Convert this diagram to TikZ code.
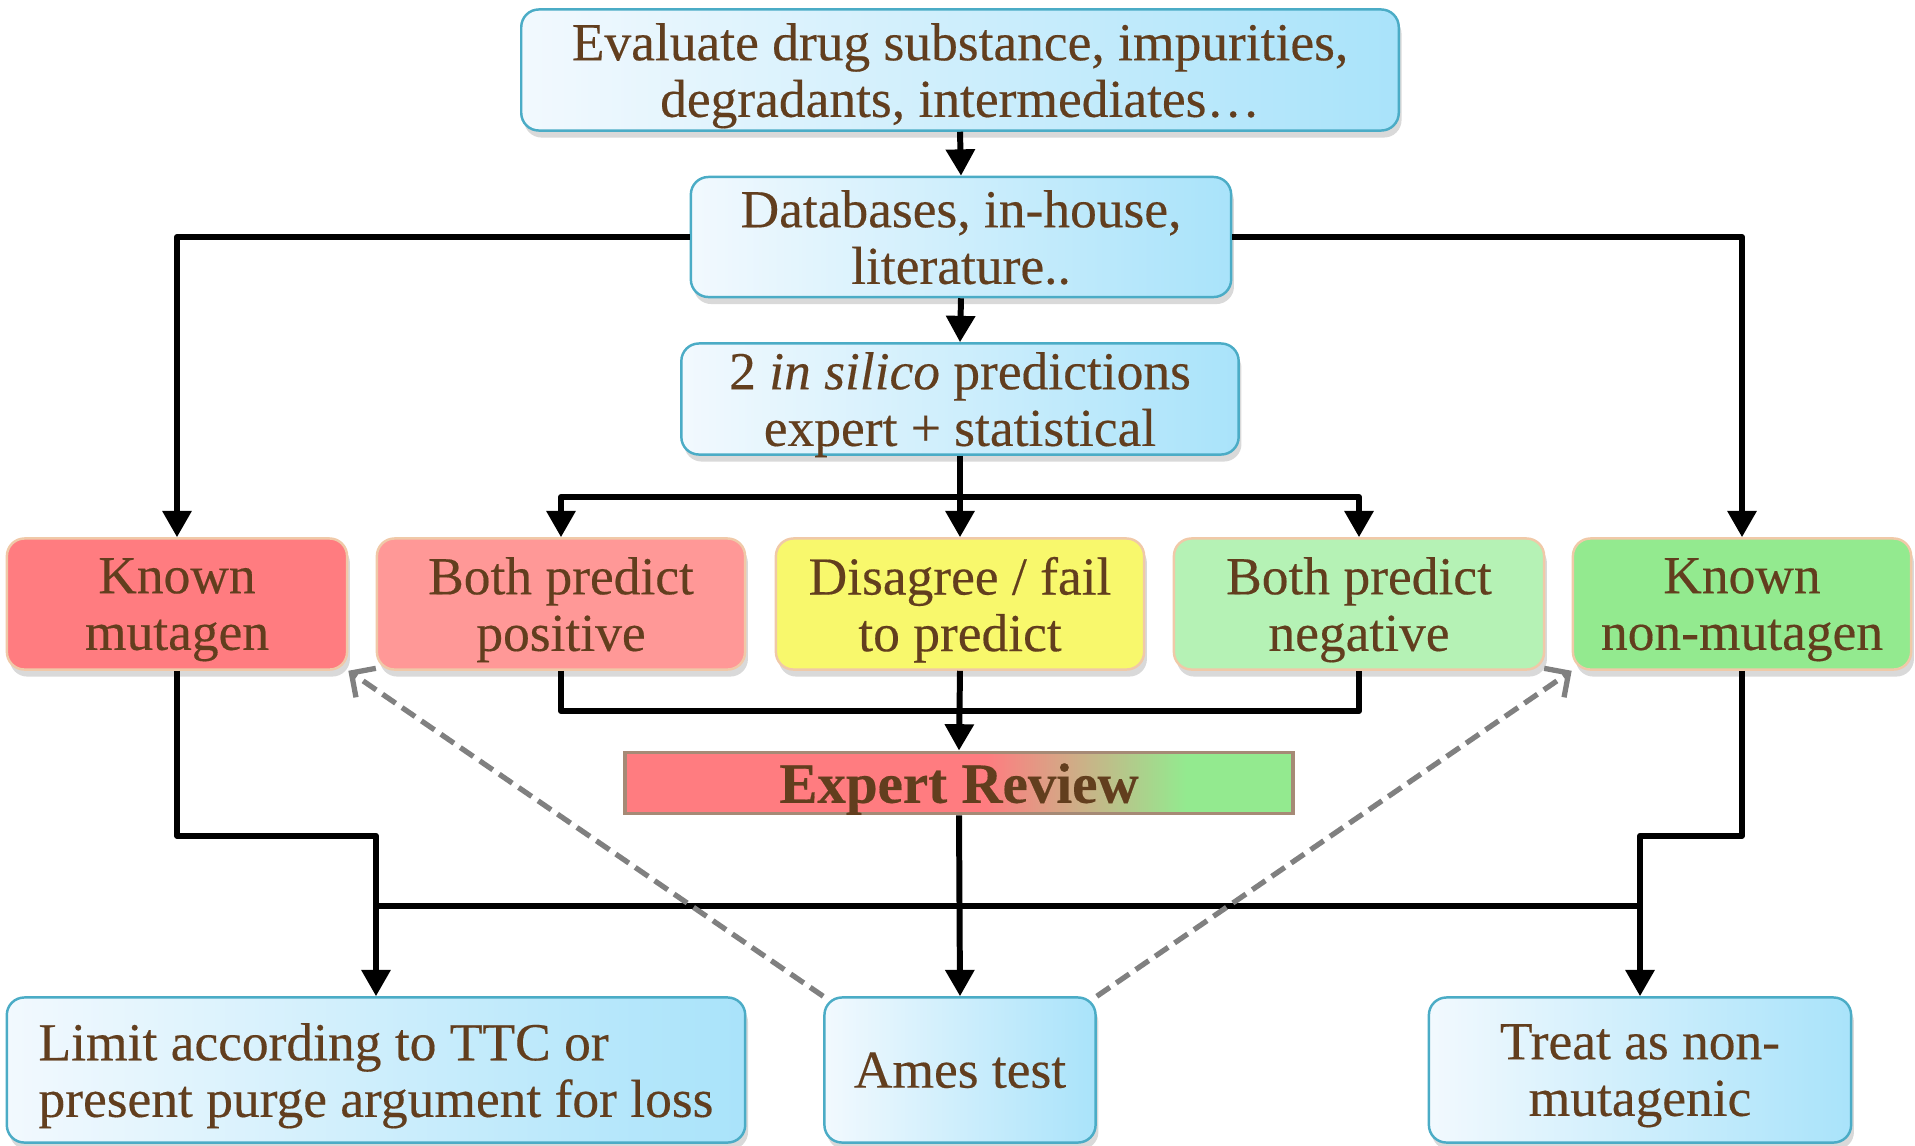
\documentclass[tikz,border=0pt]{standalone}
\usepackage{fontspec}
\setmainfont{Liberation Serif}[FakeBold=0.3]
\usepackage{xcolor}
\definecolor{txt}{HTML}{623E1E}
\definecolor{bluerule}{HTML}{4BACC6}
\definecolor{bluel}{HTML}{F2F9FE}
\definecolor{bluer}{HTML}{A9E3FA}
\definecolor{mutred}{HTML}{FF7C80}
\definecolor{pospink}{HTML}{FF9897}
\definecolor{disyel}{HTML}{F8F86C}
\definecolor{neggreen}{HTML}{B5F2B5}
\definecolor{nongreen}{HTML}{93EA8F}
\definecolor{tanrule}{HTML}{F0C9A8}
\definecolor{revrule}{HTML}{A68A76}
\definecolor{dashgray}{HTML}{808080}
\usepackage{tikz}
\usetikzlibrary{positioning,arrows.meta,shadows,calc}
\pgfdeclarehorizontalshading{revshade}{100bp}{color(0bp)=(mutred); color(52bp)=(mutred); color(67bp)=(nongreen); color(100bp)=(nongreen)}
\tikzset{
  >={Triangle[length=7.5pt,width=8pt]},
  box/.style={rounded corners=5pt,line width=0.7pt,align=center,text=txt,inner sep=2pt,
    font=\fontsize{15.2}{16.1}\selectfont,text depth=0pt,
    drop shadow={shadow xshift=0.8pt,shadow yshift=-2pt,opacity=0.3}},
  blk/.style={box,draw=bluerule,left color=bluel,right color=bluer},
  hit/.style={box,draw=tanrule,minimum height=1.31cm},
  revbox/.style={draw=revrule,line width=1.1pt,shade,shading=revshade,text=txt,text depth=0pt,
    font=\fontsize{16.2}{17}\selectfont\bfseries,minimum width=6.68cm,minimum height=0.61cm,inner sep=0pt},
  flow/.style={->,draw=black,line width=1.7pt,line join=round},
  link/.style={draw=black,line width=1.7pt,line join=round},
  back/.style={-{Straight Barb[length=5pt,width=10pt]},draw=dashgray,line width=1.5pt,dash pattern=on 4.5pt off 2.2pt},
}
\begin{document}
\begin{tikzpicture}[x=0.01cm,y=-0.01cm]
  \useasboundingbox (0,0) rectangle (1915,1145);
  % top chain
  \node[blk,minimum width=8.77cm,minimum height=1.21cm] (eval) at (960,70) {Evaluate drug substance, impurities,\\degradants, intermediates…};
  \node[blk,minimum width=5.40cm,minimum height=1.20cm] (dbase) at (961,237) {Databases, in-house,\\literature..};
  \node[blk,minimum width=5.57cm,minimum height=1.11cm] (silico) at (960,399) {2 \textit{in silico} predictions\\expert + statistical};
  % outcome row
  \node[hit,fill=mutred,minimum width=3.40cm] (kmut) at (177,604) {Known\\mutagen};
  \node[hit,fill=pospink,minimum width=3.68cm] (bpos) at (561,604) {Both predict\\positive};
  \node[hit,fill=disyel,minimum width=3.68cm] (dis) at (960,604) {Disagree / fail\\to predict};
  \node[hit,fill=neggreen,minimum width=3.70cm] (bneg) at (1359,604) {Both predict\\negative};
  \node[hit,fill=nongreen,minimum width=3.38cm] (knon) at (1742,604) {Known\\non-mutagen};
  \node[revbox] (rev) at (959,783) {Expert Review};
  % actions
  \node[blk,align=left,minimum width=7.38cm,minimum height=1.45cm] (limit) at (376,1070) {Limit according to TTC or\\present purge argument for loss};
  \node[blk,minimum width=2.71cm,minimum height=1.45cm] (ames) at (960,1070) {Ames test};
  \node[blk,minimum width=4.22cm,minimum height=1.45cm] (treat) at (1640,1070) {Treat as non-\\mutagenic};
  \coordinate (split) at (960,497);
  \coordinate (merge) at (960,711);
  \coordinate (bar) at (960,906);
  % connectors
  \draw[flow] (eval.south) -- (dbase.north);
  \draw[flow] (dbase.south) -- (silico.north);
  \draw[flow] (dbase.west) -| (kmut.north);
  \draw[flow] (dbase.east) -| (knon.north);
  \draw[flow] (silico.south) -- (dis.north);
  \draw[flow] (split) -| (bpos.north);
  \draw[flow] (split) -| (bneg.north);
  \draw[link] (bpos.south) |- (merge) -| (bneg.south);
  \draw[flow] (dis.south) -- (rev.north);
  \draw[flow] (rev.south) -- (ames.north);
  \draw[flow] (kmut.south) -- ++(0,165) -| (limit.north);
  \draw[flow] (knon.south) -- ++(0,165) -| (treat.north);
  \draw[link] (bar -| limit.north) -- (bar -| treat.north);
  % back to the known classes
  \draw[back] (ames.north west) -- (kmut.south east);
  \draw[back] (ames.north east) -- (knon.south west);
\end{tikzpicture}
\end{document}
